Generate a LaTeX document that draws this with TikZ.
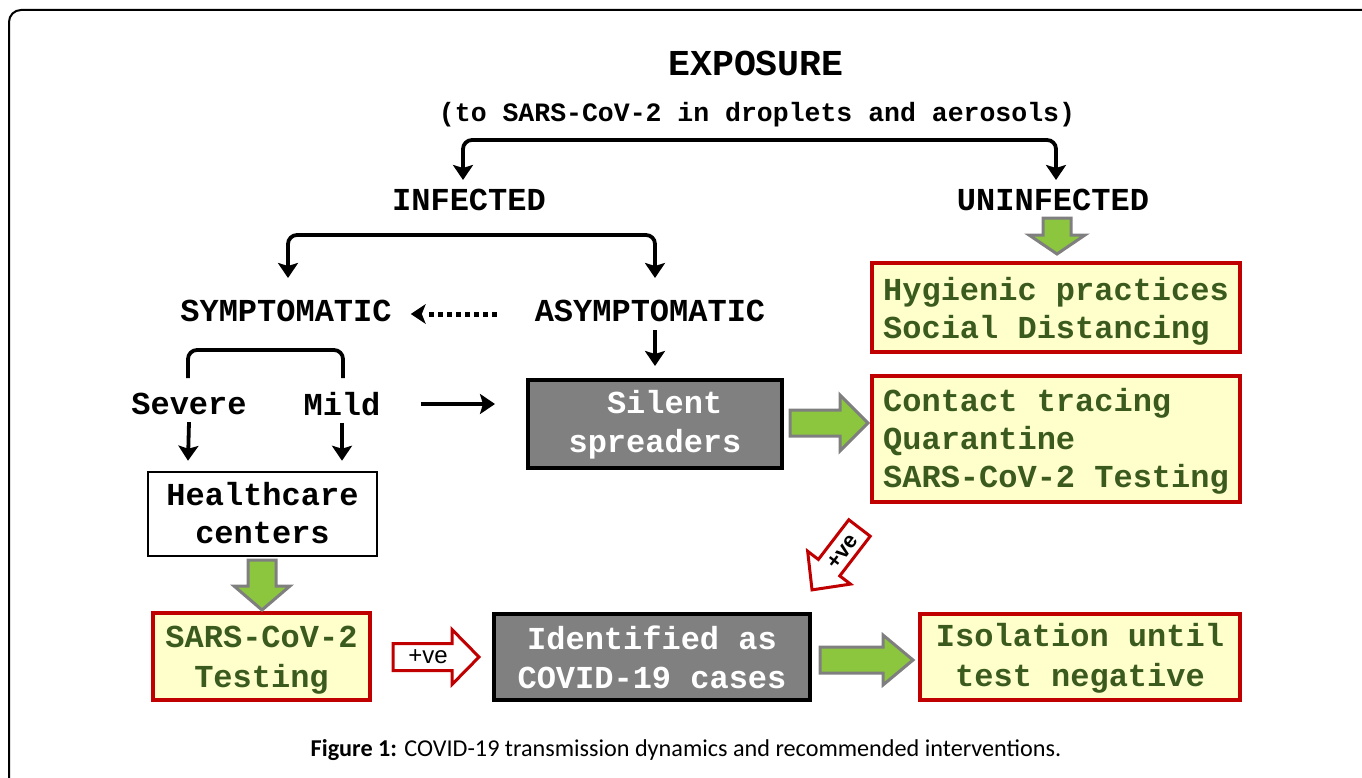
\documentclass[tikz,border=0pt]{standalone}
\usepackage{fontspec}
\setmainfont{Liberation Mono}
\newfontfamily\capfont{Carlito}
\newfontfamily\arialfont{Liberation Sans}
\usetikzlibrary{arrows.meta}
\definecolor{dkgreen}{HTML}{3A5A1E}
\definecolor{ygfill}{HTML}{FFFFCC}
\definecolor{bred}{HTML}{C00000}
\definecolor{lgreen}{HTML}{8CC63F}
\definecolor{agray}{HTML}{7F7F7F}
\definecolor{boxgray}{HTML}{808080}
\newcommand\blockarr[7]{%
  \begin{scope}[shift={(#2)},rotate=#3]
    \draw[#1] (0,-#5) -- ({#4-#7},-#5) -- ({#4-#7},-#6) -- (#4,0) -- ({#4-#7},#6) -- ({#4-#7},#5) -- (0,#5) -- cycle;
  \end{scope}}
\tikzset{
  lbl/.style={font=\bfseries\fontsize{32}{38}\selectfont, inner sep=0pt},
  arr/.style={line width=3.8pt, -{Stealth[length=15pt,width=20pt,inset=3pt]}},
  brk/.style={line width=3.8pt, rounded corners=9pt},
  ybox/.style={draw=bred, line width=3.5pt, fill=ygfill, inner sep=0pt},
  gbox/.style={draw=black, line width=4pt, fill=boxgray, inner sep=0pt},
  wbox/.style={draw=black, line width=2.5pt, fill=white, inner sep=0pt},
  ytext/.style={text=dkgreen, font=\bfseries\fontsize{32}{38}\selectfont, inner sep=0pt},
  gtext/.style={text=white, font=\bfseries\fontsize{32}{39}\selectfont, inner sep=0pt, align=center},
  wtext/.style={font=\bfseries\fontsize{32}{38}\selectfont, inner sep=0pt, align=center},
  garrow/.style={draw=agray, line width=3pt, fill=lgreen, line join=miter},
  rarrow/.style={draw=bred, line width=3pt, fill=white, line join=miter},
}
\begin{document}
\begin{tikzpicture}[x=1pt,y=-1pt]
\useasboundingbox (0,0) rectangle (1362,778);
% frame
\draw[line width=2pt, rounded corners=12pt] (9,800) -- (9,10) -- (1380,10);
% titles
\node[font=\bfseries\fontsize{36.5}{40}\selectfont, inner sep=0pt] (expo) at (756,63) {EXPOSURE};
\node[font=\bfseries\fontsize{26.5}{30}\selectfont, inner sep=0pt] (sub) at (757,115) {(to SARS-CoV-2 in droplets and aerosols)};
\node[lbl] (inf) at (469,200) {INFECTED};
\node[lbl] (uninf) at (1053,200) {UNINFECTED};
\node[lbl] (sym) at (286,311) {SYMPTOMATIC};
\node[lbl] (asym) at (650,311) {ASYMPTOMATIC};
\node[lbl] (sev) at (189,404) {Severe};
\node[lbl] (mild) at (342,404) {Mild};
% boxes
\node[ybox, minimum width=368pt, minimum height=89pt] (hyg) at (1056,307.5) {};
\node[ytext, align=left, yshift=-4pt] (hygt) at (hyg) {Hygienic practices\\Social Distancing};
\node[ybox, minimum width=368pt, minimum height=126pt] (cont) at (1056,439) {};
\node[ytext, align=left, yshift=-2.5pt] (contt) at (cont) {Contact tracing\\Quarantine\\SARS-CoV-2 Testing};
\node[gbox, minimum width=254pt, minimum height=88pt] (silent) at (655,424) {};
\node[gtext, yshift=-1pt] (silentt) at (silent) {\hphantom{S}Silent\\spreaders};
\node[wbox, minimum width=229pt, minimum height=84pt] (hc) at (262.5,514) {};
\node[wtext, yshift=1pt] (hct) at (hc) {Healthcare\\centers};
\node[ybox, minimum width=217pt, minimum height=87pt] (test) at (261.5,656.5) {};
\node[ytext, align=center, font=\bfseries\fontsize{32}{40}\selectfont, yshift=-3.5pt] (testt) at (test) {SARS-CoV-2\\Testing};
\node[gbox, minimum width=316pt, minimum height=86pt] (ident) at (652,657) {};
\node[gtext] (identt) at (ident) {Identified as\\COVID-19 cases};
\node[ybox, minimum width=320pt, minimum height=86pt] (iso) at (1080,657) {};
\node[ytext, align=center, font=\bfseries\fontsize{32}{40}\selectfont, yshift=-1.5pt] (isot) at (iso) {Isolation until\\test negative};
% coordinates for connectors
\coordinate (b1) at (757,140);
\coordinate (b1l) at (463,180);
\coordinate (b1r) at (1056,180);
\coordinate (b2) at (470,235);
\coordinate (b2l) at (288,278);
\coordinate (b2r) at (655,278);
\coordinate (b3) at (265,350);
\coordinate (b3l) at (188,378);
\coordinate (b3r) at (343,378);
% black connectors
\draw[arr, rounded corners=9pt] (b1) -| (b1l);
\draw[arr, rounded corners=9pt] (b1) -| (b1r);
\draw[arr, rounded corners=9pt] (b2) -| (b2l);
\draw[arr, rounded corners=9pt] (b2) -| (b2r);
\draw[brk] (b3) -| (b3l);
\draw[brk] (b3) -| (b3r);
\draw[arr] ([xshift=5pt,yshift=-8pt]asym.south) -- ([yshift=12pt]silent.north);
\draw[arr] ([yshift=-7pt]sev.south) -- ([xshift=-1pt,yshift=10pt]hc.north -| sev.south);
\draw[arr] ([yshift=-7pt]mild.south) -- ([yshift=10pt]hc.north -| mild.south);
\draw[arr] ([xshift=40pt]mild.east) -- ([xshift=-31pt]silent.west |- mild.east);
\draw[line width=5pt, dash pattern=on 5pt off 4pt] ([xshift=-38pt,yshift=-3pt]asym.west) -- ([xshift=36pt,yshift=-3pt]sym.east);
\fill ([xshift=19pt,yshift=-3pt]sym.east) -- ++(15pt,-10pt) -- ++(-4pt,10pt) -- ++(4pt,10pt) -- cycle;
% green block arrows
\blockarr{garrow}{1057,218}{-90}{36}{14}{28}{19}
\blockarr{garrow}{790,423}{0}{78}{13}{28}{28}
\blockarr{garrow}{262,560}{-90}{50}{14}{28}{24}
\blockarr{garrow}{820,660}{0}{93}{13}{25}{30}
% red +ve arrows
\blockarr{rarrow}{393,657}{0}{86}{13.5}{27.5}{27}
\node[font=\arialfont\fontsize{24}{26}\selectfont, inner sep=0pt] (pve1) at (428,657) {+ve};
\blockarr{rarrow}{859.5,528}{232.5}{78}{13.5}{27}{28}
\node[font=\arialfont\bfseries\fontsize{22}{24}\selectfont, inner sep=0pt, rotate=52.5] (pve2) at (843,552) {+ve};
% caption
\node[font=\capfont\fontsize{24.2}{27}\selectfont, inner sep=0pt] (cap) at (686,750) {\textbf{Figure 1:} COVID-19 transmission dynamics and recommended interventions.};
\end{tikzpicture}
\end{document}
